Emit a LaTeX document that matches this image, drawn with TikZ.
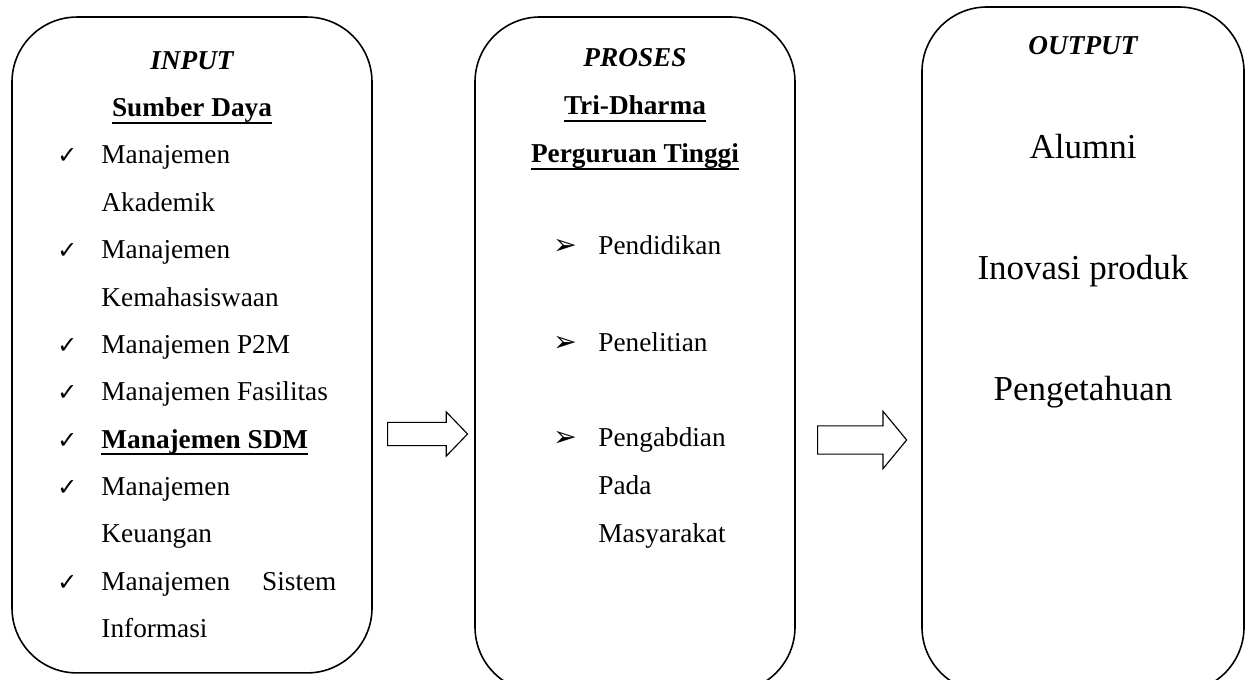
\documentclass[tikz,border=0pt]{standalone}
\usepackage{fontspec}
\setmainfont{Liberation Serif}
\newfontfamily\symfont{DejaVu Sans}
\usetikzlibrary{positioning,shapes.arrows}
\newcommand\ulbf[1]{\setbox0\hbox{\bfseries #1}\rlap{\vrule height -2.2pt depth 3.1pt width \wd0}\box0}
\tikzset{
  panel/.style={draw,line width=0.7pt,rounded corners=28.6pt,inner sep=0pt},
  title/.style={anchor=base,inner sep=0pt,font=\fontsize{12}{14}\selectfont},
  head/.style={title,font=\fontsize{12}{14}\selectfont\bfseries\itshape},
  item/.style={anchor=base west,inner sep=0pt,font=\fontsize{12}{14}\selectfont},
  big/.style={anchor=base,inner sep=0pt,font=\fontsize{15.4}{18}\selectfont},
  tick/.style={anchor=base west,inner sep=0pt,font=\symfont\fontsize{10.5}{12}\selectfont},
  blockarr/.style={draw,line width=0.5pt,single arrow,anchor=tail,single arrow head extend=4.6pt,single arrow tip angle=92,inner xsep=0pt,inner ysep=4.85pt,minimum height=35.2pt}
}
\begin{document}
\begin{tikzpicture}[x=0.44pt,y=-0.44pt]
  \useasboundingbox (0,0) rectangle (1250,680);
  \clip (0,0) rectangle (1250,680);
  % panels
  \node[panel,minimum width=158.4pt,minimum height=288.6pt] (inp) at (192,345) {};
  \node[panel,minimum width=140.8pt,minimum height=297pt] (pro) at (635,354.5) {};
  \node[panel,minimum width=141.7pt,minimum height=301.4pt] (out) at (1083,349.5) {};
  % input
  \node[head] (inT) at (192,70) {INPUT};
  \node[title] (inS) at (192,117) {\ulbf{Sumber Daya}};
  \foreach \t [count=\i from 0] in {Manajemen,Akademik,Manajemen,Kemahasiswaan,Manajemen P2M,Manajemen Fasilitas,{\ulbf{Manajemen SDM}},Manajemen,Keuangan,{\makebox[103.4pt][s]{Manajemen Sistem}},Informasi}
    \node[item] (l\i) at (101,{164+47.35*\i}) {\t};
  \foreach \i in {0,2,4,5,6,7,9}
    \node[tick] (c\i) at (57,{164+47.35*\i}) {✓};
  % proses
  \node[head] (prT) at (635,67) {PROSES};
  \node[title] (prS) at (635,115) {\ulbf{Tri-Dharma}};
  \node[title] (prP) at (635,163) {\ulbf{Perguruan Tinggi}};
  \foreach \y/\t [count=\i] in {255/Pendidikan,352/Penelitian,447/Pengabdian,495/Pada,543/Masyarakat}
    \node[item] (m\i) at (598,\y) {\t};
  \foreach \y [count=\i] in {255,352,447}
    \node[tick,font=\symfont\fontsize{12.5}{14}\selectfont] (b\i) at (553,\y) {➢};
  % output
  \node[head] (ouT) at (1083,55) {OUTPUT};
  \node[big] (o1) at (1083,159) {Alumni};
  \node[big] (o2) at (1083,280) {Inovasi produk};
  \node[big] (o3) at (1083,401) {Pengetahuan};
  % arrows
  \node[blockarr] (a1) at (387,434) {};
  \node[blockarr,minimum height=39.2pt,inner ysep=5.95pt,single arrow head extend=6.4pt,single arrow tip angle=101] (a2) at (817,440) {};
\end{tikzpicture}
\end{document}
